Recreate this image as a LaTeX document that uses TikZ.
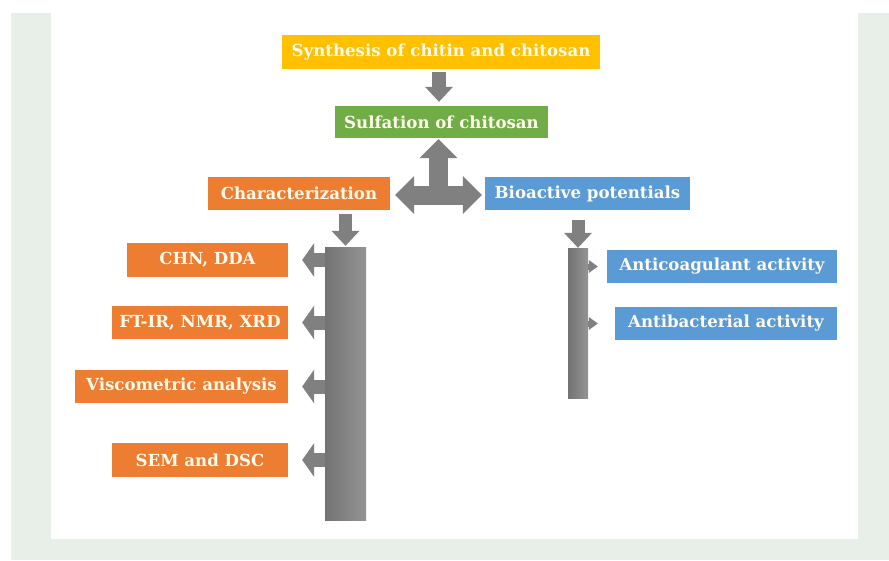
\documentclass[tikz,border=0pt]{standalone}
\usepackage{fontspec}
\setmainfont{DejaVu Serif}
\usetikzlibrary{arrows.meta}

\definecolor{framegreen}{RGB}{232,239,232}
\definecolor{gold}{RGB}{255,192,0}
\definecolor{leaf}{RGB}{112,173,71}
\definecolor{rust}{RGB}{237,125,49}
\definecolor{sky}{RGB}{91,155,213}
\definecolor{cream}{RGB}{255,250,236}
\definecolor{steel}{RGB}{128,128,128}

\begin{document}
\begin{tikzpicture}[x=1pt, y=-1pt,
  box/.style={rectangle, inner sep=0pt, minimum height=33pt, text=cream,
    font=\fontsize{16.6}{19}\selectfont\bfseries},
  bar/.style={rectangle, inner sep=0pt, left color=black!55, right color=black!42},
  bigarrow/.style={steel, line width=14pt, -{Triangle[width=28pt, length=15pt, line width=0pt]}},
  triarrow/.style={steel, line width=19pt, -{Triangle[width=38pt, length=19pt, line width=0pt]}},
  sidearrow/.style={steel, line width=14pt, -{Triangle[width=34pt, length=12pt, line width=0pt]}},
  tinyarrow/.style={steel, line width=6pt, -{Triangle[width=13pt, length=9pt, line width=0pt]}}]

% frame
      \fill[white] (0,0) rectangle (889,560);
      \fill[framegreen] (11,13) rectangle (889,560);
      \fill[white] (51,0) rectangle (858,539);
      \useasboundingbox (0,0) rectangle (889,560);

% top
      \node[box, fill=gold, minimum width=318pt, minimum height=34pt] (syn) at (441,52) {Synthesis of chitin and chitosan};
      \node[box, fill=leaf, minimum width=213pt, minimum height=32pt] (sulf) at (441.5,122) {Sulfation of chitosan};

% branches
      \node[box, fill=rust, minimum width=182pt] (char) at (299,193.5) {Characterization};
      \node[box, fill=sky, minimum width=205pt] (bio) at (587.5,193.5) {Bioactive potentials};
      \coordinate (hub) at (438.5,195);

% characterization
      \node[bar, minimum width=41pt, minimum height=273pt] (charbar) at (345.5,383.5) {};
      \node[box, fill=rust, minimum width=161pt, minimum height=34pt] (chn) at (207.5,260) {CHN, DDA};
      \node[box, fill=rust, minimum width=176pt] (ftir) at (200,322.5) {FT-IR, NMR, XRD};
      \node[box, fill=rust, minimum width=213pt] (visc) at (181.5,386.5) {Viscometric analysis};
      \node[box, fill=rust, minimum width=176pt, minimum height=34pt] (sem) at (200,460) {SEM and DSC};

% bioactivity
      \node[bar, minimum width=20pt, minimum height=150pt] (biobar) at (578,323) {};
      \node[box, fill=sky, minimum width=230pt] (coag) at (722,266.5) {Anticoagulant activity};
      \node[box, fill=sky, minimum width=222pt] (bact) at (726,323.5) {Antibacterial activity};

% Arrows
      \draw[bigarrow, shorten <=3pt, shorten >=4pt] (syn.south -| 439,0) -- (sulf.north -| 439,0);
      \draw[triarrow, shorten >=1pt] (hub) -- (hub |- sulf.south);
      \draw[triarrow, shorten >=5pt] (hub) -- (char.east |- hub);
      \draw[triarrow, shorten >=3pt] (hub) -- (bio.west |- hub);
      \draw[bigarrow, line width=13pt, shorten <=4pt, shorten >=1pt] (char.south -| charbar) -- (charbar.north);
      \draw[bigarrow, line width=13pt, shorten <=10pt, shorten >=0pt] (bio.south -| biobar) -- (biobar.north);
      \foreach \item in {chn, ftir, visc, sem}
        \draw[sidearrow, shorten >=14pt] (charbar.west |- \item.east) -- (\item.east);
      \draw[tinyarrow, shorten >=9pt] (biobar.east |- coag.west) -- (coag.west);
      \draw[tinyarrow, shorten >=17pt] (biobar.east |- bact.west) -- (bact.west);

    \end{tikzpicture}
\end{document}
